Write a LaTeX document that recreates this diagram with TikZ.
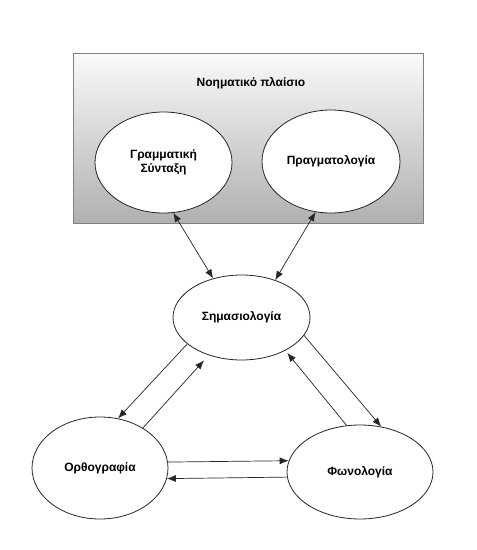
\documentclass[tikz,border=0pt]{standalone}
\usepackage{fontspec}
\setmainfont{Liberation Sans}
\usetikzlibrary{shapes.geometric,arrows.meta}
\begin{document}
\begin{tikzpicture}[x=1pt,y=-1pt,
  ell/.style={ellipse,draw=black!85,line width=0.8pt,fill=white,inner sep=0pt,
    font=\bfseries\fontsize{12}{14}\selectfont,align=center},
  conn/.style={draw=black!85,line width=0.7pt,-{Latex[length=9pt,width=7pt]}},
  bconn/.style={draw=black!85,line width=0.7pt,{Latex[length=9pt,width=7pt]}-{Latex[length=9pt,width=7pt]}}
]
\useasboundingbox (0,0) rectangle (477,550);
\fill[white] (0,0) rectangle (477,550);
% frame
\node[draw=black!50,line width=0.8pt,top color=gray!4,bottom color=gray!62,
  minimum width=350pt,minimum height=170pt,inner sep=0pt,anchor=north west]
  (frame) at (73,53) {};
\node[font=\bfseries\fontsize{12}{14}\selectfont] (title) at (251,83) {Νοηματικό πλαίσιο};
\node[ell,minimum width=137pt,minimum height=101pt] (gram) at (163.5,162.5) {Γραμματική\\Σύνταξη};
\node[ell,minimum width=138pt,minimum height=103pt] (prag) at (331,161.5) {Πραγματολογία};
\node[ell,minimum width=137pt,minimum height=85pt] (sem) at (241.5,317.5) {Σημασιολογία};
\node[ell,minimum width=136pt,minimum height=102pt] (orth) at (100,468) {Ορθογραφία};
\node[ell,minimum width=146pt,minimum height=94pt] (phon) at (360,472) {Φωνολογία};
% connectors
\draw[bconn] (gram.281) -- (sem.126);
\draw[bconn] (prag.253) -- (sem.48);
\draw[conn] (sem.206.6) -- (orth.70.2);
\draw[conn,shorten >=7pt] (orth.43.6) -- (sem.229.8);
\draw[conn] (sem.344.7) -- (phon.65);
\draw[conn,shorten >=3pt] (phon.106) -- (sem.323.9);
\draw[conn] (orth.5.9) -- (phon.171.2);
\draw[conn] (phon.184.7) -- (orth.351.5);
\end{tikzpicture}
\end{document}
